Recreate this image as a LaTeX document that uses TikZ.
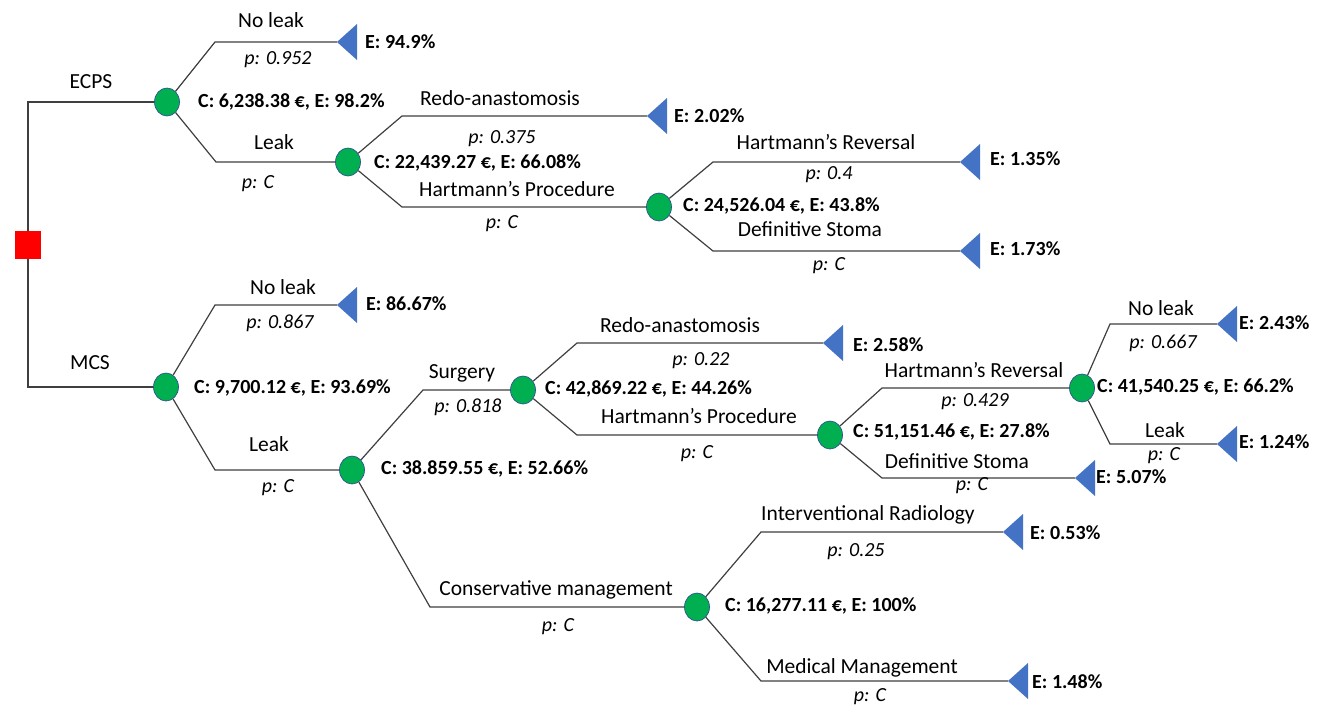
\documentclass[tikz,border=0pt]{standalone}
\usepackage{fontspec}
\setmainfont{Carlito}
\usetikzlibrary{shapes.geometric}
\definecolor{linec}{HTML}{3F3F3F}
\definecolor{chgreen}{HTML}{00B050}
\definecolor{chblue}{HTML}{2F528F}
\definecolor{triblue}{HTML}{4472C4}
\definecolor{decred}{HTML}{FF0000}
\newcommand\leafat[1]{\fill[leaf] (#1) -- ++(20,-18) -- ++(0,36) -- cycle;}
\begin{document}
\begin{tikzpicture}[x=1pt,y=-1pt,
  br/.style={draw=linec, line width=1.2pt},
  chance/.style={ellipse, fill=chgreen, draw=chblue, line width=0.7pt, minimum width=25pt, minimum height=28pt, inner sep=0pt},
  dec/.style={rectangle, fill=decred, minimum width=26pt, minimum height=28pt, inner sep=0pt},
  leaf/.style={fill=triblue},
  lab/.style={font=\fontsize{21.5}{24}\selectfont, inner sep=0pt},
  prob/.style={font=\itshape\fontsize{20}{24}\selectfont, inner sep=0pt},
  val/.style={font=\bfseries\fontsize{20}{24}\selectfont, anchor=west, inner sep=0pt}]
\useasboundingbox (0,0) rectangle (1330,707);

% ---------- nodes ----------
\node[dec] (d) at (28,245) {};
\node[chance] (c1) at (167,102) {};
\node[chance] (c2) at (348,162) {};
\node[chance] (c3) at (659,207) {};
\node[chance] (c4) at (166,387) {};
\node[chance] (c5) at (352,470) {};
\node[chance] (c6) at (523,390) {};
\node[chance] (c7) at (830,435) {};
\node[chance] (c8) at (1082,388) {};
\node[chance] (c9) at (697,607) {};

% leaf apex coordinates
\coordinate (t1) at (337,42);
\coordinate (t2) at (647,116);
\coordinate (t3) at (960,162);
\coordinate (t4) at (960,251);
\coordinate (t5) at (337,305);
\coordinate (t6) at (823,343);
\coordinate (t7) at (1217,324);
\coordinate (t8) at (1217,444);
\coordinate (t9) at (1075,478);
\coordinate (t10) at (1003,532);
\coordinate (t11) at (1008,681);

% elbows
\coordinate (e1) at (215,42);
\coordinate (e2) at (216,162);
\coordinate (e3) at (402,116);
\coordinate (e4) at (402,207);
\coordinate (e5) at (713,162);
\coordinate (e6) at (713,251);
\coordinate (e7) at (215,305);
\coordinate (e8) at (215,470);
\coordinate (e9) at (423,390);
\coordinate (e10) at (430,607);
\coordinate (e11) at (577,343);
\coordinate (e12) at (577,435);
\coordinate (e13) at (882,388);
\coordinate (e14) at (882,478);
\coordinate (e15) at (1110,324);
\coordinate (e16) at (1110,444);
\coordinate (e17) at (761,532);
\coordinate (e18) at (761,681);

% ---------- connectors ----------
\draw[br] (d) |- (c1);
\draw[br] (d) |- (c4);
\draw[br] (c1) -- (e1) -- (t1);
\draw[br] (c1) -- (e2) -- (c2);
\draw[br] (c2) -- (e3) -- (t2);
\draw[br] (c2) -- (e4) -- (c3);
\draw[br] (c3) -- (e5) -- (t3);
\draw[br] (c3) -- (e6) -- (t4);
\draw[br] (c4) -- (e7) -- (t5);
\draw[br] (c4) -- (e8) -- (c5);
\draw[br] (c5) -- (e9) -- (c6);
\draw[br] (c5) -- (e10) -- (c9);
\draw[br] (c6) -- (e11) -- (t6);
\draw[br] (c6) -- (e12) -- (c7);
\draw[br] (c7) -- (e13) -- (c8);
\draw[br] (c7) -- (e14) -- (t9);
\draw[br] (c8) -- (e15) -- (t7);
\draw[br] (c8) -- (e16) -- (t8);
\draw[br] (c9) -- (e17) -- (t10);
\draw[br] (c9) -- (e18) -- (t11);

% redraw decision on top
\node[dec] at (d) {};

% leaves
\leafat{t1}\leafat{t2}\leafat{t3}\leafat{t4}\leafat{t5}\leafat{t6}
\leafat{t7}\leafat{t8}\leafat{t9}\leafat{t10}\leafat{t11}

% ---------- texts ----------
\node[lab] (lECPS) at (91,82) {ECPS};
\node[lab] (lMCS) at (90,363) {MCS};

\node[lab] (l1) at (271,20) {No leak};
\node[prob] (p1) at (278,60) {p: 0.952};
\node[val] (v1) at (198,102) {C: 6,238.38 €, E: 98.2\%};
\node[lab] (l2) at (274,142) {Leak};
\node[prob] (p2) at (258,184) {p: C};
\node[val] (E1) at (365,42) {E: 94.9\%};

\node[lab] (l3) at (500,98) {Redo-anastomosis};
\node[prob] (p3) at (502,139) {p: 0.375};
\node[val] (v2) at (374,163) {C: 22,439.27 €, E: 66.08\%};
\node[lab] (l4) at (517,189) {Hartmann’s Procedure};
\node[prob] (p4) at (502,224) {p: C};
\node[val] (E2) at (674,116) {E: 2.02\%};

\node[lab] (l5) at (826,142) {Hartmann’s Reversal};
\node[prob] (p5) at (829,175) {p: 0.4};
\node[val] (v3) at (683,206) {C: 24,526.04 €, E: 43.8\%};
\node[lab] (l6) at (810,229) {Definitive Stoma};
\node[prob] (p6) at (829,266) {p: C};
\node[val] (E3) at (990,159) {E: 1.35\%};
\node[val] (E4) at (990,249) {E: 1.73\%};

\node[lab] (l7) at (283,287) {No leak};
\node[prob] (p7) at (280,323) {p: 0.867};
\node[val] (v4) at (194,388) {C: 9,700.12 €, E: 93.69\%};
\node[lab] (l8) at (269,444) {Leak};
\node[prob] (p8) at (278,488) {p: C};
\node[val] (E5) at (366,304) {E: 86.67\%};

\node[lab] (l9) at (462,373) {Surgery};
\node[prob] (p9) at (468,407) {p: 0.818};
\node[val] (v5) at (381,469) {C: 38.859.55 €, E: 52.66\%};
\node[lab] (l10) at (556,590) {Conservative management};
\node[prob] (p10) at (558,627) {p: C};

\node[lab] (l11) at (680,325) {Redo-anastomosis};
\node[prob] (p11) at (701,361) {p: 0.22};
\node[val] (v6) at (545,389) {C: 42,869.22 €, E: 44.26\%};
\node[lab] (l12) at (699,416) {Hartmann’s Procedure};
\node[prob] (p12) at (697,454) {p: C};
\node[val] (E6) at (853,345) {E: 2.58\%};

\node[lab] (l13) at (974,370) {Hartmann’s Reversal};
\node[prob] (p13) at (975,402) {p: 0.429};
\node[val] (v7) at (853,432) {C: 51,151.46 €, E: 27.8\%};
\node[lab] (l14) at (957,461) {Definitive Stoma};
\node[prob] (p14) at (972,486) {p: C};
\node[val] (E9) at (1096,477) {E: 5.07\%};

\node[lab] (l15) at (1161,308) {No leak};
\node[prob] (p15) at (1163,343) {p: 0.667};
\node[val] (v8) at (1097,387) {C: 41,540.25 €, E: 66.2\%};
\node[lab] (l16) at (1165,430) {Leak};
\node[prob] (p16) at (1164,456) {p: C};
\node[val] (E7) at (1239,323) {E: 2.43\%};
\node[val] (E8) at (1239,442) {E: 1.24\%};

\node[lab] (l17) at (868,515) {Interventional Radiology};
\node[prob] (p17) at (856,552) {p: 0.25};
\node[val] (v9) at (725,606) {C: 16,277.11 €, E: 100\%};
\node[lab] (l18) at (862,668) {Medical Management};
\node[prob] (p18) at (870,697) {p: C};
\node[val] (E10) at (1030,533) {E: 0.53\%};
\node[val] (E11) at (1032,682) {E: 1.48\%};
\end{tikzpicture}
\end{document}
